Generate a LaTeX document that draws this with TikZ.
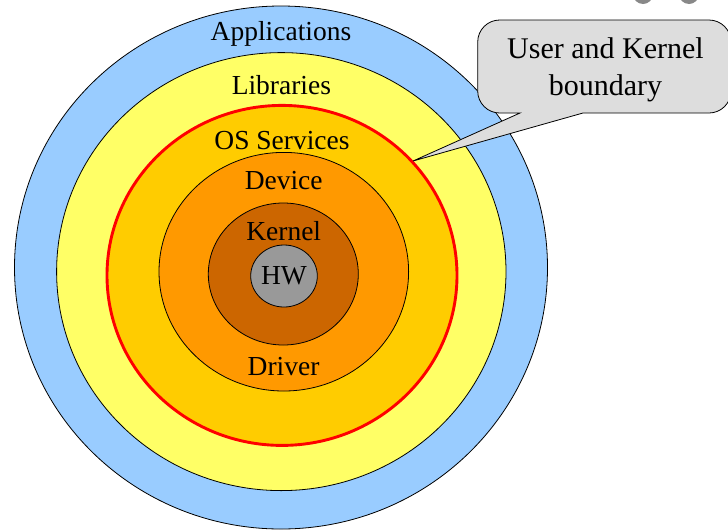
\documentclass[tikz,border=0pt]{standalone}
\usepackage{fontspec}
\setmainfont{Liberation Serif}
\definecolor{appblue}{HTML}{99CCFF}
\definecolor{libyellow}{HTML}{FFFF66}
\definecolor{osgold}{HTML}{FFCC00}
\definecolor{devorange}{HTML}{FF9900}
\definecolor{kernbrown}{HTML}{CC6600}
\definecolor{hwgray}{HTML}{999999}
\definecolor{callgray}{HTML}{DDDDDD}
\definecolor{dotgray}{HTML}{888888}
\begin{document}
\begin{tikzpicture}[x=1pt,y=-1pt,
  ring/.style={draw=black,line width=0.8pt},
  lbl/.style={anchor=base,inner sep=0pt,font=\fontsize{27.5}{30}\selectfont},
  calltext/.style={anchor=base,inner sep=0pt,font=\fontsize{30}{32}\selectfont}]
\useasboundingbox (0,0) rectangle (728,531);
% screen artifacts at top right
\fill[dotgray] (643,-6) circle (10);
\fill[dotgray] (689,-6) circle (10);
% rings
\filldraw[ring,fill=appblue] (281,267.5) ellipse [x radius=266.5,y radius=261.5];
\filldraw[ring,fill=libyellow] (281.3,271.6) ellipse [x radius=224.7,y radius=219];
\filldraw[draw=red,line width=2.9pt,fill=osgold] (282,275.4) ellipse [x radius=175,y radius=170];
\filldraw[ring,fill=devorange] (283.8,271.7) ellipse [x radius=124.8,y radius=119.3];
\filldraw[ring,fill=kernbrown] (283.3,274) ellipse [x radius=75,y radius=71];
\filldraw[ring,fill=hwgray] (284,276) ellipse [x radius=33.3,y radius=31];
% labels
\node[lbl] (app) at (281,40.8) {Applications};
\node[lbl] (lib) at (281.4,94.8) {Libraries};
\node[lbl] (os) at (282,149) {OS Services};
\node[lbl] (dev) at (283.7,189.6) {Device};
\node[lbl] (ker) at (283.7,240.4) {Kernel};
\node[lbl] (hw) at (284,284.5) {HW};
\node[lbl] (drv) at (283.6,375) {Driver};
% callout
\coordinate (tip) at (413,161);
\filldraw[draw=black,line width=0.8pt,fill=callgray]
  (583,113) [rounded corners=22] -- (731,113) -- (731,20) -- (477.7,20) -- (477.7,113) [sharp corners] -- (520,113) -- (tip) -- cycle;
\node[calltext] (c1) at (605.5,58.3) {User and Kernel};
\node[calltext] (c2) at (605.5,95) {boundary};
\end{tikzpicture}
\end{document}
